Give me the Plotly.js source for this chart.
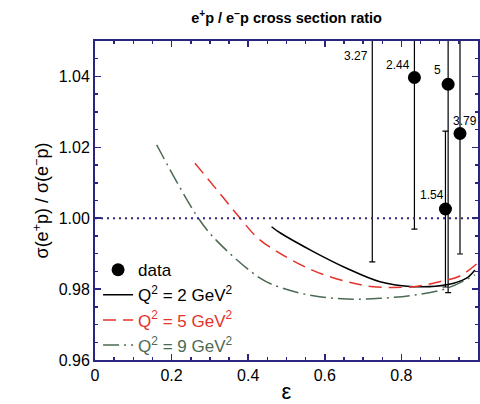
<!DOCTYPE html>
<html>
<head>
<meta charset="utf-8">
<script src="https://cdn.plot.ly/plotly-3.0.1.min.js"></script>
<style>html,body{margin:0;padding:0;background:#fff}#chart{width:480px;height:404px}</style>
</head>
<body>
<div id="chart"></div>
<script>
// ---- data ----
var dataEps    = [0.724, 0.834, 0.922, 0.953, 0.915];
var dataRatio  = [1.070, 1.0397, 1.0378, 1.0239, 1.0026];
var dataErr    = [0.0823, 0.0428, 0.0588, 0.034, 0.022];
var dataLabels = ['3.27', '2.44', '5', '3.79', '1.54'];

var q2Eps   = [0.461, 0.483, 0.570, 0.657, 0.744, 0.831, 0.918, 0.970, 0.992];
var q2Ratio = [0.9976, 0.9959, 0.9906, 0.9859, 0.9821, 0.9807, 0.9812, 0.9831, 0.9854];

var q5Eps   = [0.261, 0.322, 0.379, 0.426, 0.483, 0.570, 0.657, 0.726, 0.831, 0.900, 0.953, 0.996];
var q5Ratio = [1.0155, 1.0075, 1.0000, 0.9943, 0.9901, 0.9852, 0.9821, 0.9807, 0.9807, 0.9821, 0.9837, 0.9871];

var q9Eps   = [0.161, 0.270, 0.320, 0.431, 0.483, 0.570, 0.657, 0.744, 0.831, 0.918, 0.992];
var q9Ratio = [1.0207, 1.0000, 0.9934, 0.9831, 0.9805, 0.9781, 0.9772, 0.9774, 0.9783, 0.9802, 0.9840];

var legendNames = ['data', 'Q<sup>2</sup> = 2 GeV<sup>2</sup>', 'Q<sup>2</sup> = 5 GeV<sup>2</sup>', 'Q<sup>2</sup> = 9 GeV<sup>2</sup>'];

// ---- styles ----
var navy = '#2a2680';
var red = '#e5322b';
var green = '#4c6a52';
var labelShift = [[-16, -15], [-16, 13], [-11, 14], [5, 13], [-13, 14]];
var yTop = 1.05;

var traces = [
  {x: dataEps, y: dataRatio, type: 'scatter', mode: 'markers', name: legendNames[0],
   marker: {color: '#000', size: 13},
   error_y: {type: 'data', array: dataErr, visible: true, color: '#000', thickness: 1.2, width: 3}},
  {x: q2Eps, y: q2Ratio, type: 'scatter', mode: 'lines', name: legendNames[1],
   line: {color: '#000', width: 1.5, shape: 'spline', smoothing: 1}},
  {x: q5Eps, y: q5Ratio, type: 'scatter', mode: 'lines', name: '<span style="color:' + red + '">' + legendNames[2] + '</span>',
   line: {color: red, width: 1.5, dash: '13px,7px', shape: 'spline', smoothing: 1}},
  {x: q9Eps, y: q9Ratio, type: 'scatter', mode: 'lines', name: '<span style="color:' + green + '">' + legendNames[3] + '</span>',
   line: {color: green, width: 1.5, dash: '16px,5px,2px,5px', shape: 'spline', smoothing: 1}}
];

var annotations = dataLabels.map(function (t, i) {
  var onChart = dataRatio[i] <= yTop;
  return {x: dataEps[i], y: onChart ? dataRatio[i] : yTop, xref: 'x', yref: 'y', text: t,
          showarrow: false, xshift: labelShift[i][0], yshift: labelShift[i][1],
          font: {size: 12, color: '#000'}};
});

var axisCommon = {
  showline: true, linecolor: navy, linewidth: 2, mirror: 'allticks',
  ticks: 'inside', ticklen: 6, tickwidth: 1.5, tickcolor: navy,
  showgrid: false, zeroline: false,
  tickfont: {family: 'Liberation Sans, Arial, sans-serif', size: 16, color: '#000'}
};

var layout = {
  width: 480, height: 404,
  margin: {l: 95, r: 2, t: 41, b: 44},
  paper_bgcolor: '#fff', plot_bgcolor: '#fff',
  font: {family: 'Liberation Sans, Arial, sans-serif', color: '#000'},
  title: {text: 'e<sup>+</sup>p / e<sup>\u2212</sup>p cross section ratio', font: {size: 14.5, weight: 'bold', color: '#000'},
          x: 0.597, xanchor: 'center', y: 0.955, yanchor: 'middle'},
  xaxis: Object.assign({}, axisCommon, {
    range: [0, 1], dtick: 0.2, tick0: 0,
    minor: {dtick: 0.05, ticks: 'inside', ticklen: 3, tickcolor: navy, tickwidth: 1.5},
    title: {text: '\u03b5', font: {size: 22}, standoff: 10}
  }),
  yaxis: Object.assign({}, axisCommon, {
    range: [0.96, 1.05], dtick: 0.02, tick0: 0.96, tickformat: '.2f',
    minor: {dtick: 0.005, ticks: 'inside', ticklen: 3, tickcolor: navy, tickwidth: 1.5},
    title: {text: '\u03c3(e<sup>+</sup>p) / \u03c3(e<sup>\u2212</sup>p)', font: {size: 18}, standoff: 5}
  }),
  shapes: [{type: 'line', xref: 'paper', x0: 0, x1: 1, yref: 'y', y0: 1.0, y1: 1.0,
            line: {color: navy, width: 2, dash: '2px,4px'}}],
  annotations: annotations,
  showlegend: true,
  legend: {x: 0.008, xanchor: 'left', y: 0.338, yanchor: 'top', bgcolor: 'rgba(0,0,0,0)',
           font: {size: 17, color: '#000'}, tracegroupgap: 0},
};

Plotly.newPlot('chart', traces, layout, {displayModeBar: false, staticPlot: true});
</script>
</body>
</html>
